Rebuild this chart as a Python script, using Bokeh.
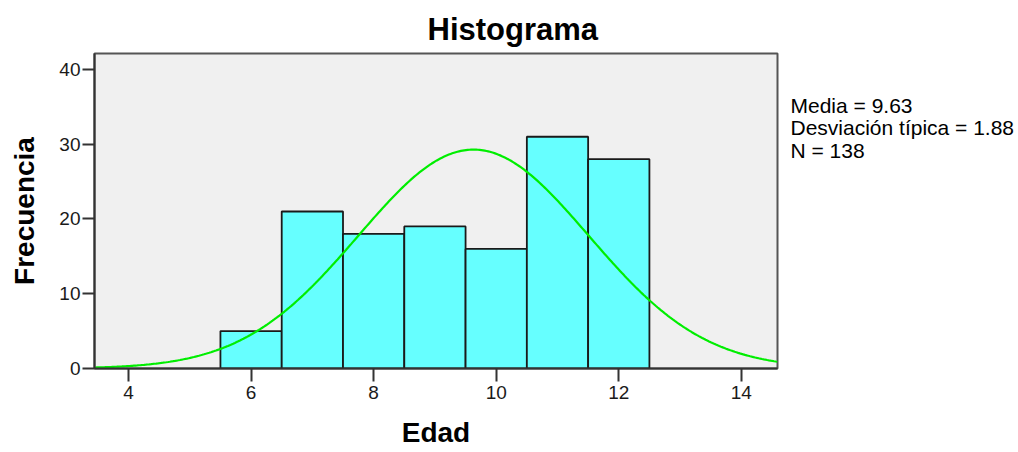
import numpy as np
from bokeh.plotting import figure
from bokeh.models import Range1d, LinearAxis, FixedTicker
from bokeh.embed import file_html
from bokeh.resources import INLINE

# ---- data ----
bin_centers = [6, 7, 8, 9, 10, 11, 12]
counts = [5, 21, 18, 19, 16, 31, 28]
bin_width = 1.0
mean = 9.63
std = 1.88
n_obs = 138
x_ticks = [4, 6, 8, 10, 12, 14]
y_ticks = [0, 10, 20, 30, 40]
stats_lines = ["Media = 9.63", "Desviación típica = 1.88", "N = 138"]

FONT = "Liberation Sans"
X0, X1 = 3.445, 14.59
Y0, Y1 = 0, 42.14

p = figure(width=1018, height=452, output_backend="svg", toolbar_location=None,
           x_range=Range1d(X0, X1), y_range=Range1d(Y0, Y1),
           min_border_left=94, min_border_right=241,
           min_border_top=53, min_border_bottom=84)

p.background_fill_color = "#f0f0f0"
p.border_fill_color = "white"
p.outline_line_color = "#555555"
p.outline_line_width = 2
p.xgrid.visible = False
p.ygrid.visible = False

# title
p.title.text = "Histograma"
p.title.text_font = FONT
p.title.text_font_size = "31px"
p.title.text_font_style = "bold"
p.title.text_color = "black"
p.title.align = "left"
p.title.offset = 333
p.title.standoff = 13

# bars
p.vbar(x=bin_centers, top=counts, width=bin_width, bottom=0,
       fill_color="#66ffff", line_color="#1a1a1a", line_width=1.8)

# fitted normal curve (from the stats shown)
xs = np.linspace(X0, X1, 400)
ys = n_obs * bin_width * np.exp(-0.5 * ((xs - mean) / std) ** 2) / (std * np.sqrt(2 * np.pi))
p.line(xs, ys, line_color="#00ee00", line_width=2.2)

# axes
for ax in (p.xaxis[0], p.yaxis[0]):
    ax.axis_line_color = "#333333"
    ax.axis_line_width = 2
    ax.major_tick_line_color = "#333333"
    ax.major_tick_line_width = 2
    ax.major_tick_in = 0
    ax.minor_tick_line_color = None
    ax.major_label_text_font = FONT
    ax.major_label_text_font_size = "19px"
    ax.major_label_text_color = "#1a1a1a"
    ax.axis_label_text_font = FONT
    ax.axis_label_text_font_size = "28px"
    ax.axis_label_text_font_style = "bold"
    ax.axis_label_text_color = "black"

p.xaxis.ticker = x_ticks
p.yaxis.ticker = y_ticks
p.xaxis.major_tick_out = 13
p.yaxis.major_tick_out = 12
p.xaxis.major_label_standoff = 4
p.yaxis.major_label_standoff = 2
p.xaxis.axis_label = "Edad"
p.yaxis.axis_label = "Frecuencia"
p.xaxis.axis_label_standoff = 15
p.yaxis.axis_label_standoff = 16

# stats text on the right, drawn as tick labels of an extra right axis
stat_pos = [35.15, 32.20, 29.20]
stats_axis = LinearAxis(ticker=FixedTicker(ticks=stat_pos),
                        major_label_overrides={v: t for v, t in zip(stat_pos, stats_lines)})
stats_axis.axis_line_color = None
stats_axis.major_tick_line_color = None
stats_axis.minor_tick_line_color = None
stats_axis.major_tick_out = 0
stats_axis.major_tick_in = 0
stats_axis.major_label_standoff = 13
stats_axis.major_label_text_font = FONT
stats_axis.major_label_text_font_size = "21px"
stats_axis.major_label_text_color = "black"
p.add_layout(stats_axis, "right")

open("out.html", "w").write(file_html(p, INLINE))
